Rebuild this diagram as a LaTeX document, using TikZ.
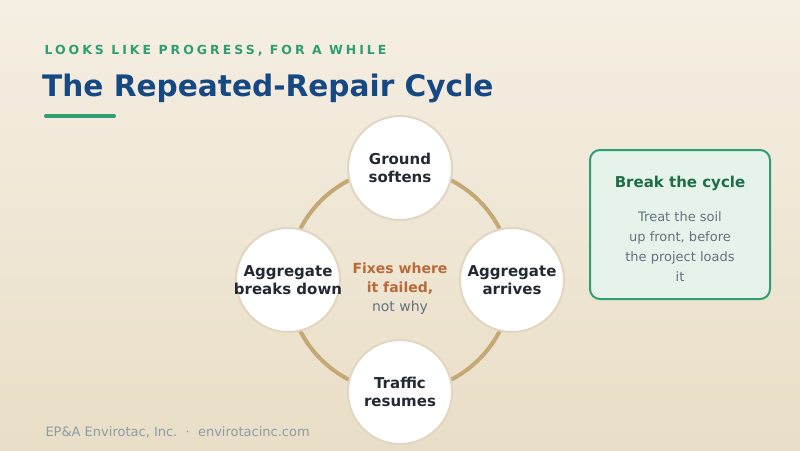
\documentclass[tikz,border=0pt]{standalone}
\usepackage{fontspec}
\setmainfont{DejaVu Sans}
\usetikzlibrary{positioning}
\definecolor{bgtop}{RGB}{245,239,227}
\definecolor{bgbot}{RGB}{233,222,199}
\definecolor{ringtan}{RGB}{196,168,118}
\definecolor{rimbeige}{RGB}{226,214,192}
\definecolor{accgreen}{RGB}{47,158,116}
\definecolor{deepgreen}{RGB}{30,108,72}
\definecolor{titleblue}{RGB}{22,72,132}
\definecolor{darktext}{RGB}{35,42,52}
\definecolor{rust}{RGB}{184,106,58}
\definecolor{slate}{RGB}{100,114,128}
\definecolor{footgray}{RGB}{140,156,166}
\definecolor{boxfill}{RGB}{230,243,235}

\begin{document}
\begin{tikzpicture}[x=1pt,y=-1pt]
  \tikzstyle{stage}=[circle,draw=rimbeige,line width=2pt,fill=white,minimum size=104pt,inner sep=-20pt,
    align=center,font=\fontsize{15}{18}\selectfont\bfseries,text=darktext]
  \tikzstyle{bodytext}=[font=\fontsize{13}{20}\selectfont,text=slate,align=center]

  % background
  \shade[top color=bgtop,bottom color=bgbot] (0,0) rectangle (800,450);
  \useasboundingbox (0,0) rectangle (800,450);

  % heading
  \node[anchor=west,text=accgreen,font=\fontsize{12.5}{15}\selectfont\bfseries\addfontfeature{LetterSpace=24}] (kicker) at (41,51) {LOOKS LIKE PROGRESS, FOR A WHILE};
  \node[anchor=west,text=titleblue,font=\fontsize{29.6}{34}\selectfont\bfseries,inner sep=0pt] (title) at (42,88) {The Repeated-Repair Cycle};
  \draw[accgreen,line width=4pt,line cap=round] (46,116) -- (114,116);

  % cycle
  \draw[ringtan,line width=4pt] (400,280) circle (112);
  \node[stage] (soft)   at (400,168) {Ground\\softens};
  \node[stage] (arrive) at (512,280) {Aggregate\\arrives};
  \node[stage] (resume) at (400,392) {Traffic\\resumes};
  \node[stage] (breaks) at (288,280) {Aggregate\\breaks down};

  \node[align=center,font=\fontsize{14}{19}\selectfont] (core) at (400,289)
    {\textcolor{rust}{\bfseries Fixes where}\\\textcolor{rust}{\bfseries it failed,}\\\textcolor{slate}{not why}};

  % side box
  \draw[accgreen,line width=2pt,fill=boxfill,rounded corners=10pt] (590,150) rectangle (770,299);
  \node[text=deepgreen,font=\fontsize{15}{18}\selectfont\bfseries] (brk) at (680,183) {Break the cycle};
  \node[bodytext,below=14pt of brk] (treat) {Treat the soil\\up front, before\\the project loads\\it};

  % footer
  \node[anchor=west,text=footgray,font=\fontsize{13}{15}\selectfont] (foot) at (42,432) {EP\&A Envirotac, Inc.\ \ ·\ \ envirotacinc.com};
\end{tikzpicture}
\end{document}
